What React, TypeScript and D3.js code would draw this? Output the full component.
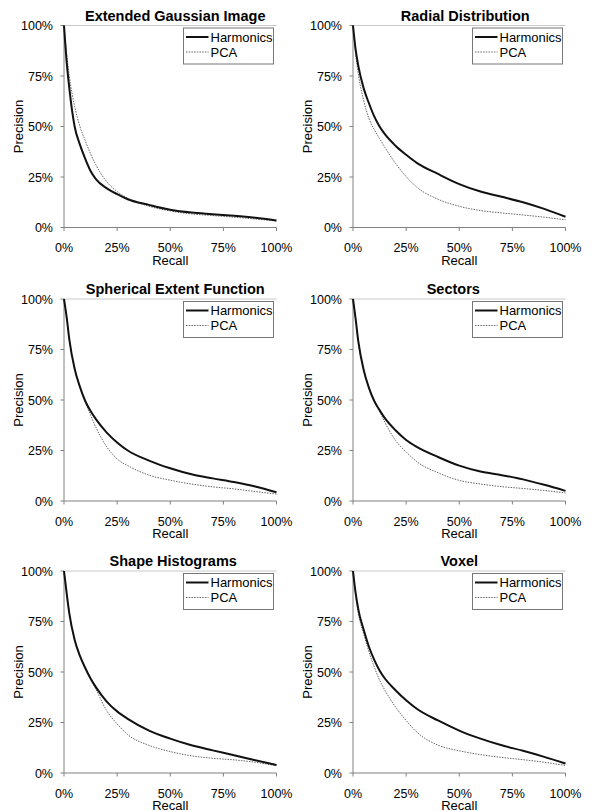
import React from "react";
import * as d3 from "d3";

const RECALL = [0, 0.0125, 0.025, 0.05, 0.075, 0.1, 0.125, 0.15, 0.2, 0.25, 0.3, 0.4, 0.5, 0.6, 0.7, 0.8, 0.9, 1.0];

const TITLES = [
  "Extended Gaussian Image",
  "Radial Distribution",
  "Spherical Extent Function",
  "Sectors",
  "Shape Histograms",
  "Voxel",
];
const SERIES_NAMES = ["Harmonics", "PCA"];
const TICK_VALUES = [0, 0.25, 0.5, 0.75, 1];
const TICK_LABELS = ["0%", "25%", "50%", "75%", "100%"];
const X_LABEL = "Recall";
const Y_LABEL = "Precision";

const EGI_HARMONICS = [1.0, 0.82, 0.69, 0.5, 0.41, 0.34, 0.28, 0.24, 0.195, 0.165, 0.14, 0.112, 0.088, 0.074, 0.066, 0.058, 0.048, 0.035];
const EGI_PCA = [1.0, 0.86, 0.75, 0.6, 0.5, 0.43, 0.365, 0.31, 0.228, 0.178, 0.145, 0.105, 0.082, 0.067, 0.059, 0.051, 0.042, 0.032];

const RADIAL_HARMONICS = [1.0, 0.88, 0.8, 0.69, 0.615, 0.55, 0.5, 0.462, 0.405, 0.36, 0.32, 0.265, 0.215, 0.178, 0.152, 0.125, 0.092, 0.053];
const RADIAL_PCA = [1.0, 0.86, 0.76, 0.63, 0.54, 0.485, 0.44, 0.397, 0.318, 0.252, 0.2, 0.14, 0.105, 0.084, 0.072, 0.062, 0.051, 0.038];

const SEF_HARMONICS = [1.0, 0.91, 0.8, 0.655, 0.565, 0.495, 0.445, 0.405, 0.34, 0.29, 0.25, 0.2, 0.162, 0.132, 0.112, 0.094, 0.072, 0.043];
const SEF_PCA = [1.0, 0.91, 0.8, 0.655, 0.565, 0.49, 0.425, 0.365, 0.27, 0.208, 0.175, 0.128, 0.103, 0.084, 0.07, 0.06, 0.047, 0.034];

const SECTORS_HARMONICS = [1.0, 0.9, 0.79, 0.65, 0.56, 0.495, 0.45, 0.41, 0.35, 0.302, 0.268, 0.218, 0.175, 0.146, 0.128, 0.107, 0.08, 0.05];
const SECTORS_PCA = [1.0, 0.9, 0.79, 0.65, 0.56, 0.495, 0.445, 0.39, 0.3, 0.243, 0.195, 0.14, 0.102, 0.084, 0.071, 0.062, 0.052, 0.04];

const SHAPE_HARMONICS = [1.0, 0.89, 0.79, 0.66, 0.58, 0.52, 0.468, 0.425, 0.355, 0.305, 0.268, 0.21, 0.17, 0.137, 0.112, 0.088, 0.063, 0.04];
const SHAPE_PCA = [1.0, 0.89, 0.79, 0.66, 0.58, 0.52, 0.466, 0.415, 0.31, 0.243, 0.19, 0.137, 0.106, 0.085, 0.073, 0.065, 0.053, 0.036];

const VOXEL_HARMONICS = [1.0, 0.89, 0.81, 0.71, 0.625, 0.56, 0.508, 0.468, 0.41, 0.36, 0.318, 0.26, 0.21, 0.17, 0.137, 0.11, 0.08, 0.047];
const VOXEL_PCA = [1.0, 0.88, 0.79, 0.69, 0.6, 0.525, 0.46, 0.41, 0.327, 0.26, 0.203, 0.138, 0.11, 0.091, 0.077, 0.066, 0.053, 0.037];

const PANEL_SERIES = [
  [EGI_HARMONICS, EGI_PCA],
  [RADIAL_HARMONICS, RADIAL_PCA],
  [SEF_HARMONICS, SEF_PCA],
  [SECTORS_HARMONICS, SECTORS_PCA],
  [SHAPE_HARMONICS, SHAPE_PCA],
  [VOXEL_HARMONICS, VOXEL_PCA],
];

// layout
const W = 594;
const H = 811;
const COL_LEFT = [64, 353];
const ROW_TOP = [25.5, 299, 571];
const PW = 212.5;
const PH = 202;
const TITLE_DX = [5, 6, 5, -6, 3, 0];
const FONT = "'Liberation Sans', Arial, Helvetica, sans-serif";
const AXIS_COLOR = "#808080";

function Panel({ idx }: { idx: number }) {
  const col = idx % 2;
  const row = Math.floor(idx / 2);
  const left = COL_LEFT[col];
  const top = ROW_TOP[row];
  const x = d3.scaleLinear().domain([0, 1]).range([left, left + PW]);
  const y = d3.scaleLinear().domain([0, 1]).range([top + PH, top]);
  const line = d3
    .line<number>()
    .x((_, i) => x(RECALL[i]))
    .y((d) => y(d))
    .curve(d3.curveMonotoneX);
  const [harm, pca] = PANEL_SERIES[idx];
  const bottom = top + PH;
  const cx = left + PW / 2;
  return (
    <g>
      <text
        x={cx + TITLE_DX[idx]}
        y={top - 5}
        textAnchor="middle"
        fontFamily={FONT}
        fontWeight="bold"
        fontSize={14.5}
        fill="#000"
      >
        {TITLES[idx]}
      </text>
      {/* axes */}
      <line x1={left} x2={left + PW} y1={top} y2={top} stroke="#c8c8c8" strokeWidth={1} />
      <line x1={left} x2={left} y1={top} y2={bottom} stroke={AXIS_COLOR} strokeWidth={1} />
      <line x1={left} x2={left + PW} y1={bottom} y2={bottom} stroke={AXIS_COLOR} strokeWidth={1} />
      {TICK_VALUES.map((t, i) => (
        <g key={"y" + i}>
          <line x1={left - 3.5} x2={left} y1={y(t)} y2={y(t)} stroke={AXIS_COLOR} strokeWidth={1} />
          <text
            x={left - 11}
            y={y(t) + 4.5}
            textAnchor="end"
            fontFamily={FONT}
            fontSize={12.5}
            fill="#000"
          >
            {TICK_LABELS[i]}
          </text>
        </g>
      ))}
      {TICK_VALUES.map((t, i) => (
        <g key={"x" + i}>
          <line x1={x(t)} x2={x(t)} y1={bottom} y2={bottom + 3.5} stroke={AXIS_COLOR} strokeWidth={1} />
          <text
            x={x(t)}
            y={bottom + 24.5}
            textAnchor="middle"
            fontFamily={FONT}
            fontSize={12.5}
            fill="#000"
          >
            {TICK_LABELS[i]}
          </text>
        </g>
      ))}
      <text
        x={cx}
        y={bottom + 37}
        textAnchor="middle"
        fontFamily={FONT}
        fontSize={13}
        fill="#000"
      >
        {X_LABEL}
      </text>
      <text
        transform={`translate(${left - 41.5},${top + PH / 2}) rotate(-90)`}
        textAnchor="middle"
        fontFamily={FONT}
        fontSize={13}
        fill="#000"
      >
        {Y_LABEL}
      </text>
      {/* series */}
      <path d={line(pca) || ""} fill="none" stroke="#666" strokeWidth={1} strokeDasharray="1.5,1.2" />
      <path d={line(harm) || ""} fill="none" stroke="#111" strokeWidth={2} strokeLinejoin="round" />
      {/* legend */}
      <rect
        x={left + 119.5}
        y={top + 2.5}
        width={90}
        height={36}
        fill="#fff"
        stroke="#777"
        strokeWidth={1}
      />
      <line x1={left + 122} x2={left + 144.5} y1={top + 11.5} y2={top + 11.5} stroke="#111" strokeWidth={2} />
      <text x={left + 146.5} y={top + 16} fontFamily={FONT} fontSize={13} fill="#000">
        {SERIES_NAMES[0]}
      </text>
      <line
        x1={left + 122}
        x2={left + 144.5}
        y1={top + 26.5}
        y2={top + 26.5}
        stroke="#666"
        strokeWidth={1}
        strokeDasharray="1.5,1.2"
      />
      <text x={left + 146.5} y={top + 31} fontFamily={FONT} fontSize={13} fill="#000">
        {SERIES_NAMES[1]}
      </text>
    </g>
  );
}

export default function App() {
  return (
    <svg
      width={W}
      height={H}
      viewBox={`0 0 ${W} ${H}`}
      style={{ position: "absolute", left: 0, top: 0, background: "#fff" }}
    >
      <rect x={0} y={0} width={W} height={H} fill="#fff" />
      {TITLES.map((_, i) => (
        <Panel key={i} idx={i} />
      ))}
    </svg>
  );
}
